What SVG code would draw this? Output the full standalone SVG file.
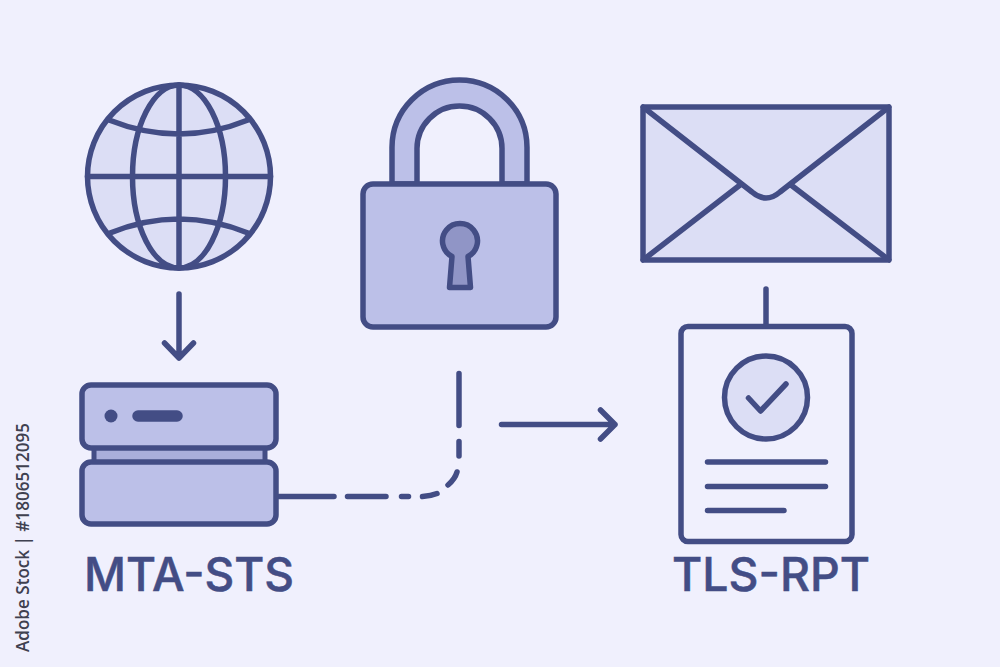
<svg xmlns="http://www.w3.org/2000/svg" width="1000" height="667" viewBox="0 0 1000 667">
<style>
.s{stroke:#434d85;stroke-width:5.5;stroke-linecap:round;stroke-linejoin:round;fill:none}
.light{fill:#dcdef5}
.mid{fill:#bcc0e8}
.lbl{font-family:Inter,"Liberation Sans",sans-serif;font-size:46px;font-weight:500;fill:#434d85;stroke:#434d85;stroke-width:.5}
</style>
<rect width="1000" height="667" fill="#f0f0fd"/>
<text id="stock-credit" transform="translate(29,652) rotate(-90)" font-family="'Open Sans','Liberation Sans',sans-serif" font-size="18" font-weight="600" fill="#3f4150" textLength="229" lengthAdjust="spacingAndGlyphs">Adobe Stock | #1806512095</text>
<g id="connectors">
<path class="s" d="M179 294V358M164.500 343L179 358L193.500 343"/>
<path class="s" d="M279 496.500H334M347.500 496.500H386M401.500 496.500H408.500M422.500 496.500Q431 496 437 493.500M448 485Q455 479 457 472M459 456V441.500M459 425.500V373.500"/>
<path class="s" d="M501.500 424.500H615M600.500 410L615 424.500L600.500 439"/>
<path class="s" d="M766 289V325"/>
</g>
<g id="globe">
<circle class="s light" cx="179" cy="176.500" r="91.500"/>
<ellipse class="s" cx="179" cy="176.500" rx="46.500" ry="91.500"/>
<path class="s" d="M179 85V268M87.500 176.500H270.500M109 120Q179 148 248 120M110 233Q179 205 248 233"/>
</g>
<g id="server">
<rect x="94" y="446" width="171" height="18" fill="#a9aedb" stroke="#434d85" stroke-width="5"/>
<rect class="s mid" x="82" y="385" width="194" height="63" rx="9"/>
<rect class="s mid" x="82" y="462" width="194" height="62" rx="9"/>
<circle cx="111" cy="416" r="6.500" fill="#434d85"/>
<path d="M138 416H177" stroke="#434d85" stroke-width="11.500" stroke-linecap="round"/>
<text class="lbl" x="84" y="591" textLength="210" lengthAdjust="spacingAndGlyphs">MTA-STS</text>
</g>
<g id="lock">
<path class="s mid" d="M392 184V147.500A67.500 67.500 0 0 1 527 147.500V184H502V148.500A42.500 42.500 0 0 0 417 148.500V184Z"/>
<rect class="s mid" x="363" y="184" width="193" height="143" rx="10"/>
<path class="s" style="fill:#9095c6" d="M452 256.500A17.500 17.500 0 1 1 468 256.500L470.500 287.500H449.500Z"/>
</g>
<g id="envelope">
<rect class="s light" x="643" y="107" width="246" height="153" rx="2"/>
<path class="s" d="M643 107L752 192Q766 204 780 192L889 107M643 260L740 185M889 260L791 185"/>
</g>
<g id="report">
<rect class="s" x="681" y="326.500" width="171" height="215" rx="7"/>
<circle class="s light" cx="766" cy="397.500" r="41.500"/>
<path class="s" d="M748.500 398L760.500 411L786 384M707.500 462H825.500M707.500 486.500H825.500M707.500 510.500H784"/>
<text class="lbl" x="672" y="591" textLength="198" lengthAdjust="spacingAndGlyphs">TLS-RPT</text>
</g>
</svg>
